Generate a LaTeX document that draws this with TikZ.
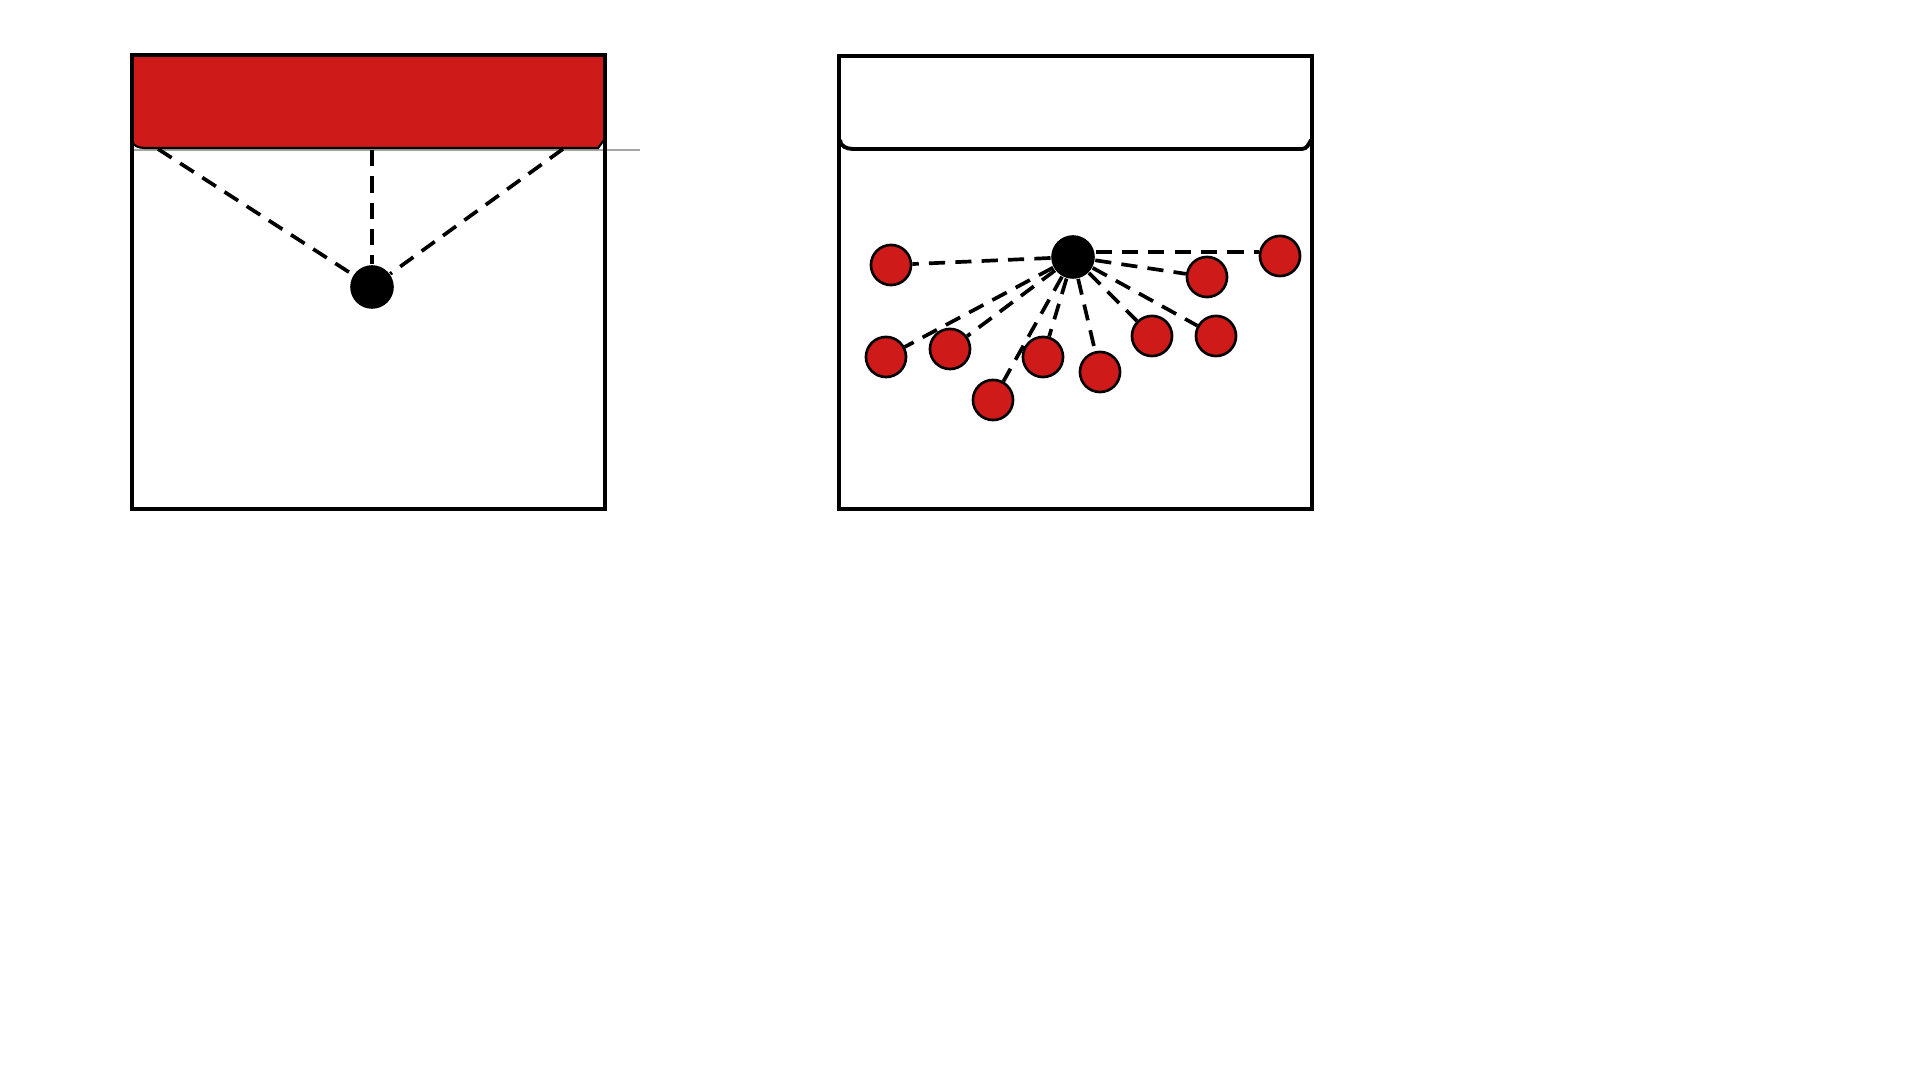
\documentclass[tikz,border=0pt]{standalone}
\definecolor{ballred}{RGB}{207,26,26}
\begin{document}
\begin{tikzpicture}[x=0.01cm,y=-0.01cm,
  frame/.style={line width=1.1pt,line cap=rect},
  conn/.style={line width=1.05pt,dash pattern=on 4.6pt off 2.9pt},
  hub/.style={circle,fill=black,inner sep=0pt,minimum size=12.4pt},
  red/.style={circle,fill=ballred,draw=black,line width=0.75pt,inner sep=0pt,minimum size=11.4pt}]
\useasboundingbox[fill=white] (0,0) rectangle (1920,1080);
% left panel
\fill[ballred] (132,56) -- (604,56) -- (604,140) -- (598,148) -- (145,148) to[out=180,in=-90] (132,140) -- cycle;
\draw[gray!70,line width=0.3pt] (132,150) -- (640,150);
\draw[line width=0.6pt] (132,140) to[out=-90,in=180] (145,148) -- (598,148) -- (604,140);
\draw[frame] (132,55) rectangle (605,509);
\coordinate (a1) at (158,149);
\coordinate (a2) at (372,150);
\coordinate (a3) at (563,149);
\node[hub] (h1) at (372,287) {};
\draw[conn] (a1) -- (h1);
\draw[conn] (a2) -- (h1);
\draw[conn] (a3) -- (h1);
% right panel
\draw[frame] (839,56) rectangle (1312,509);
\draw[line width=1.1pt] (840,140) to[out=-90,in=180] (853,149) -- (1302,149) to[out=0,in=-120] (1311,140);
\node[hub] (h2) at (1073,257) {};
\node[red] (r1) at (891,265) {};
\node[red] (r2) at (1280,256) {};
\node[red] (r3) at (1207,277) {};
\node[red] (r4) at (886,357) {};
\node[red] (r5) at (950,349) {};
\node[red] (r6) at (993,400) {};
\node[red] (r7) at (1043,357) {};
\node[red] (r8) at (1100,372) {};
\node[red] (r9) at (1152,336) {};
\node[red] (r10) at (1216,336) {};
\foreach \r in {r1,r3,r4,r5,r6,r7,r8,r9,r10}
  \draw[conn] (h2) -- (\r);
\draw[conn] (h2.east |- 0,252) -- (r2.west |- 0,252);
\end{tikzpicture}
\end{document}
